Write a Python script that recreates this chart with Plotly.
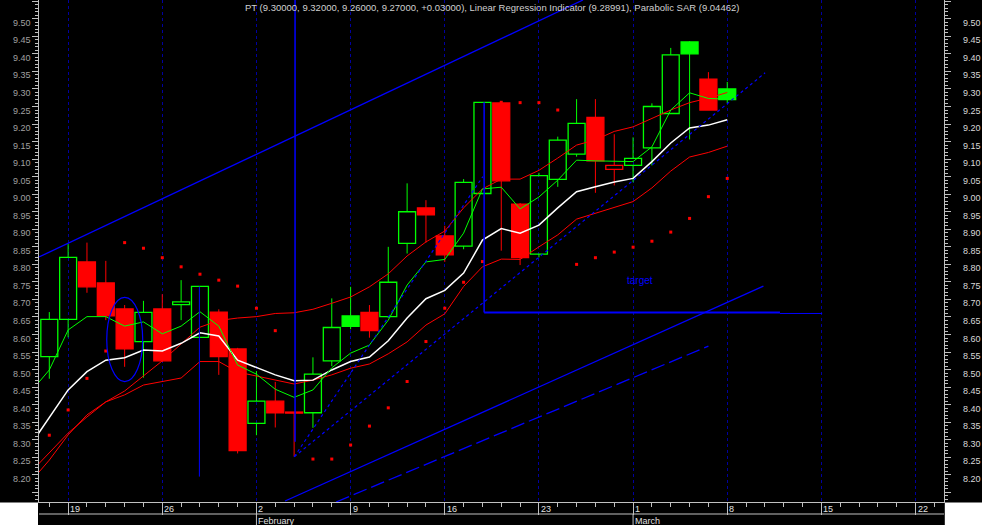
import plotly.graph_objects as go

# ---------------- data (trading-day index 0 = Fri 16 Jan 2004) ----------------
open_ = [8.537, 8.643, 8.807, 8.747, 8.673, 8.580, 8.673, 8.685, 8.592, 8.664,
         8.559, 8.347, 8.410, 8.379, 8.377, 8.525, 8.653, 8.663, 8.651, 8.860,
         8.961, 8.881, 8.852, 9.002, 9.260, 8.972, 8.829, 9.042, 9.114, 9.219,
         9.071, 9.082, 9.132, 9.230, 9.434, 9.328, 9.300]
high = [8.664, 8.858, 8.862, 8.810, 8.684, 8.696, 8.715, 8.755, 8.737, 8.672,
        8.562, 8.496, 8.465, 8.379, 8.535, 8.703, 8.736, 8.684, 8.850, 9.031,
        8.983, 8.910, 9.043, 9.262, 9.262, 8.975, 9.061, 9.164, 9.271, 9.271,
        9.171, 9.162, 9.259, 9.417, 9.436, 9.348, 9.320]
low = [8.474, 8.592, 8.719, 8.641, 8.508, 8.477, 8.522, 8.641, 8.592, 8.485,
       8.261, 8.313, 8.335, 8.252, 8.334, 8.510, 8.615, 8.591, 8.647, 8.831,
       8.862, 8.807, 8.843, 9.000, 8.839, 8.798, 8.820, 9.021, 9.107, 9.004,
       9.025, 9.034, 9.082, 9.230, 9.156, 9.240, 9.260]
close = [8.643, 8.820, 8.736, 8.653, 8.559, 8.663, 8.525, 8.693, 8.737, 8.537,
         8.269, 8.410, 8.377, 8.376, 8.487, 8.620, 8.623, 8.611, 8.749, 8.950,
         8.941, 8.827, 9.034, 9.262, 9.038, 8.819, 9.053, 9.154, 9.202, 9.095,
         9.082, 9.102, 9.250, 9.397, 9.400, 9.240, 9.270]
prev_close_before = 8.52

# indicator lines, sessions -1 .. 36
line_white = [8.285, 8.362, 8.442, 8.494, 8.527, 8.534, 8.556, 8.553, 8.575, 8.605,
              8.596, 8.527, 8.505, 8.485, 8.468, 8.470, 8.499, 8.523, 8.536, 8.582,
              8.647, 8.702, 8.726, 8.775, 8.869, 8.902, 8.889, 8.912, 8.961, 9.007,
              9.021, 9.035, 9.045, 9.093, 9.146, 9.189, 9.197, 9.212]
line_green = [8.436, 8.499, 8.613, 8.651, 8.651, 8.624, 8.636, 8.602, 8.624, 8.665,
              8.624, 8.513, 8.487, 8.444, 8.421, 8.442, 8.505, 8.547, 8.570, 8.641,
              8.741, 8.807, 8.814, 8.889, 9.015, 9.020, 8.958, 8.992, 9.040, 9.097,
              9.095, 9.093, 9.093, 9.135, 9.240, 9.289, 9.273, 9.271]
line_red_upper = [8.207, 8.262, 8.319, 8.365, 8.408, 8.439, 8.482, 8.525, 8.573, 8.621,
                  8.640, 8.647, 8.651, 8.660, 8.662, 8.672, 8.689, 8.707, 8.736, 8.773,
                  8.824, 8.864, 8.895, 8.961, 9.015, 9.043, 9.043, 9.068, 9.103, 9.140,
                  9.155, 9.179, 9.192, 9.216, 9.240, 9.261, 9.274, 9.290]
line_red_lower = [8.180, 8.242, 8.314, 8.371, 8.408, 8.428, 8.456, 8.465, 8.476, 8.523,
                  8.523, 8.493, 8.482, 8.472, 8.459, 8.470, 8.485, 8.504, 8.516, 8.545,
                  8.579, 8.627, 8.659, 8.737, 8.793, 8.815, 8.814, 8.850, 8.884, 8.929,
                  8.946, 8.964, 8.979, 9.018, 9.066, 9.106, 9.119, 9.137]
# parabolic SAR, sessions 0 .. 36
sar = [8.313, 8.385, 8.475, 8.553, 8.862, 8.846, 8.819, 8.793, 8.772, 8.755,
       8.738, 8.675, 8.611, None, 8.245, 8.245, 8.285, 8.339, 8.391, 8.466,
       8.580, 8.675, 8.749, 8.808, 9.262, 9.261, 9.261, 9.240, 8.800, 8.819,
       8.835, 8.849, 8.866, 8.892, 8.931, 8.993, 9.045]

week_ticks = [1, 6, 11, 16, 21, 26, 31, 36, 41, 46]
week_labels = ["19", "26", "2", "9", "16", "23", "1", "8", "15", "22"]
month_ticks = [11, 31]
month_labels = ["February", "March"]

price_labels = [round(8.20 + 0.05 * k, 2) for k in range(27)]

title_text = ("PT (9.30000, 9.32000, 9.26000, 9.27000, +0.03000), "
              "Linear Regression Indicator (9.28991), Parabolic SAR (9.04462)")

# drawn study objects (session index, price)
upper_channel = [(-0.547, 8.821), (28.34, 9.5536)]
lower_channel = [(12.52, 8.1254), (37.92, 8.738)]
lower_channel_dash = [(15.23, 8.1226), (35.0, 8.567)]
fan_steep = [(13.01, 8.2517), (23.02, 9.050)]
fan_flat = [(13.01, 8.2517), (38.01, 9.346)]
vline_a = [(7.97, 8.195), (7.97, 8.737)]
vline_b = [(13.05, 8.294), (13.05, 9.5536)]
vline_c = [(23.09, 8.663), (23.09, 9.262)]
target_line = [(23.09, 8.663), (38.8, 8.663)]
target_line2 = [(38.8, 8.660), (41.04, 8.660)]
ellipse_box = [(3.05, 8.4655), (4.96, 8.706)]
target_label = (30.57, 8.7534, "target")

X_RANGE = [-0.547, 47.51]
Y_RANGE = [8.1226, 9.5536]

# ---------------- figure ----------------
RED = "#ff0000"
GREEN = "#00ff00"
BLUE = "#0000ff"
AXIS = "#c0c0c0"
FONT = "Liberation Sans, Arial, sans-serif"

n = len(close)
idx = list(range(n))
bases, heights, fills, edges = [], [], [], []
for i in range(n):
    pc = prev_close_before if i == 0 else close[i - 1]
    col = GREEN if close[i] > pc else RED
    bases.append(min(open_[i], close[i]))
    heights.append(abs(close[i] - open_[i]))
    fills.append("rgba(0,0,0,0)" if close[i] >= open_[i] else col)
    edges.append(col)

fig = go.Figure()
fig.add_trace(go.Bar(x=idx, y=heights, base=bases, width=0.9,
                     marker=dict(color=fills, line=dict(color=edges, width=1.3)),
                     hoverinfo="skip", showlegend=False))

wick = {RED: ([], []), GREEN: ([], [])}
for i in range(n):
    wx, wy = wick[edges[i]]
    top = max(open_[i], close[i])
    bot = min(open_[i], close[i])
    wx += [i, i, None, i, i, None]
    wy += [top, high[i], None, low[i], bot, None]
for col, (wx, wy) in wick.items():
    fig.add_trace(go.Scatter(x=wx, y=wy, mode="lines", line=dict(color=col, width=1),
                             hoverinfo="skip", showlegend=False))

line_x = list(range(-1, n))
for vals, col, w in [(line_red_lower, RED, 1), (line_red_upper, RED, 1),
                     (line_white, "#ffffff", 1.5), (line_green, GREEN, 1)]:
    fig.add_trace(go.Scatter(x=line_x, y=vals, mode="lines",
                             line=dict(color=col, width=w), hoverinfo="skip",
                             showlegend=False))

fig.add_trace(go.Scatter(x=idx, y=sar, mode="markers",
                         marker=dict(symbol="square", size=3, color=RED, line=dict(width=0)),
                         hoverinfo="skip", showlegend=False))

shapes = []


def seg(p, color=BLUE, width=1.3, dash="solid"):
    (x0, y0), (x1, y1) = p
    shapes.append(dict(type="line", xref="x", yref="y", x0=x0, y0=y0, x1=x1, y1=y1,
                       line=dict(color=color, width=width, dash=dash)))


seg(upper_channel, width=1.3)
seg(lower_channel, width=1.3)
seg(lower_channel_dash, width=1.3, dash="14px,5px")
seg(fan_steep, width=1.2, dash="3px,3px")
seg(fan_flat, width=1.2, dash="3px,3px")
seg(vline_a, width=1)
seg(vline_b, width=1.5)
seg(vline_c, width=1.5)
seg(target_line, width=2)
seg(target_line2, width=1)
(ex0, ey0), (ex1, ey1) = ellipse_box
shapes.append(dict(type="circle", xref="x", yref="y", x0=ex0, y0=ey0, x1=ex1, y1=ey1,
                   line=dict(color=BLUE, width=1.2)))

PW, PH = 905.0, 502.0
# white corners below the price panel
shapes.append(dict(type="rect", xref="paper", yref="paper", x0=-39 / PW, x1=-1 / PW,
                   y0=-23 / PH, y1=-0.5 / PH, fillcolor="#ffffff", line=dict(width=0),
                   layer="above"))
shapes.append(dict(type="rect", xref="paper", yref="paper", x0=1 + 0.8 / PW, x1=1 + 38 / PW,
                   y0=-23 / PH, y1=-0.5 / PH, fillcolor="#ffffff", line=dict(width=0),
                   layer="above"))
# date-axis separator line and month separators
shapes.append(dict(type="line", xref="paper", yref="paper", x0=0, x1=1,
                   y0=-12 / PH, y1=-12 / PH, line=dict(color=AXIS, width=1)))
for m in month_ticks:
    shapes.append(dict(type="line", xref="x", yref="paper", x0=m, x1=m,
                       y0=-12 / PH, y1=-23 / PH, line=dict(color=AXIS, width=1)))

ann = []
ann.append(dict(text=title_text, xref="paper", yref="paper", x=0.5, y=1 - 7.5 / PH,
                xanchor="center", yanchor="middle", showarrow=False,
                font=dict(family=FONT, size=9.5, color="#d0d0d0")))
for v in price_labels:
    ann.append(dict(text=f"{v:.2f}", xref="paper", yref="y", x=-6 / PW, y=v,
                    xanchor="right", yanchor="middle", yshift=-4, showarrow=False,
                    font=dict(family=FONT, size=9, color="#a0a0a0")))
    ann.append(dict(text=f"{v:.2f}", xref="paper", yref="y", x=1 + 17 / PW, y=v,
                    xanchor="left", yanchor="middle", yshift=-4, showarrow=False,
                    font=dict(family=FONT, size=9, color="#d8d8d8")))
for t, lab in zip(week_ticks, week_labels):
    ann.append(dict(text=lab, xref="x", yref="paper", x=t, y=-6.5 / PH,
                    xanchor="left", yanchor="middle", xshift=0, showarrow=False,
                    font=dict(family=FONT, size=9, color="#e0e0e0")))
for t, lab in zip(month_ticks, month_labels):
    ann.append(dict(text=lab, xref="x", yref="paper", x=t, y=-18.5 / PH,
                    xanchor="left", yanchor="middle", xshift=0, showarrow=False,
                    font=dict(family=FONT, size=9, color="#e0e0e0")))
tx, ty, tt = target_label
ann.append(dict(text=tt, xref="x", yref="y", x=tx, y=ty, xanchor="left",
                yanchor="middle", showarrow=False,
                font=dict(family=FONT, size=10, color=BLUE)))

ytick_major = [round(8.15 + 0.05 * k, 2) for k in range(29)]
ytick_minor = [round(8.13 + 0.01 * k, 2) for k in range(143)]

fig.update_layout(
    width=982, height=525,
    margin=dict(l=39, r=38, t=0, b=23, pad=0),
    paper_bgcolor="#000000", plot_bgcolor="#000000",
    barmode="overlay", showlegend=False,
    shapes=shapes, annotations=ann,
    xaxis=dict(range=X_RANGE, showline=True, linecolor=AXIS, linewidth=1,
               ticks="outside", tickmode="array", tickvals=week_ticks, ticklen=12,
               tickcolor=AXIS, tickwidth=1, showticklabels=False,
               showgrid=True, gridcolor="#0000a0", gridwidth=1, griddash="3px,3px",
               zeroline=False, fixedrange=True,
               minor=dict(tickmode="array", tickvals=list(range(0, 48)), ticklen=4,
                          tickcolor=AXIS, ticks="outside", showgrid=False)),
    yaxis=dict(range=Y_RANGE, showline=True, linecolor=AXIS, linewidth=1, mirror="ticks",
               ticks="outside", tickmode="array", tickvals=ytick_major, ticklen=6,
               tickcolor=AXIS, tickwidth=1, showticklabels=False, showgrid=False,
               zeroline=False, fixedrange=True,
               minor=dict(tickmode="array", tickvals=ytick_minor, ticklen=3,
                          tickcolor=AXIS, ticks="outside", showgrid=False)),
)

fig.write_html("out.html", config={"displayModeBar": False},
               post_script="document.body.style.margin='0';document.body.style.overflow='hidden';")
